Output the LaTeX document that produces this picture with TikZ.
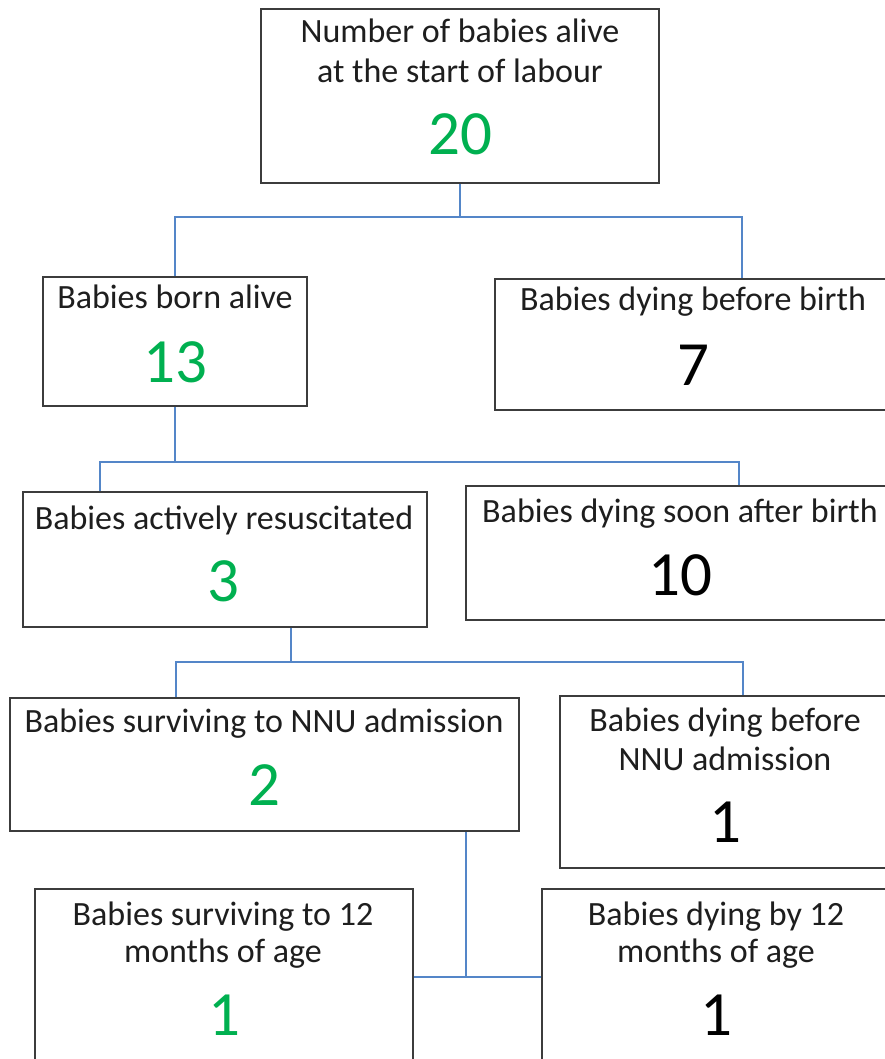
\documentclass[tikz,border=0pt]{standalone}
\usepackage{fontspec}
\setmainfont{Carlito}
\definecolor{numgreen}{RGB}{0,176,80}
\definecolor{connblue}{RGB}{84,134,200}
\definecolor{boxline}{RGB}{60,60,60}
\definecolor{txt}{RGB}{30,30,30}
\begin{document}
\begin{tikzpicture}[x=1pt,y=-1pt,
  box/.style={draw=boxline, line width=1.6pt, inner sep=0pt, fill=white},
  lbl/.style={font=\fontsize{34}{40}\selectfont, text=txt, anchor=base, inner sep=0pt},
  numg/.style={font=\fontsize{63}{70}\selectfont, text=numgreen, anchor=base, inner sep=0pt},
  numk/.style={font=\fontsize{63}{70}\selectfont, text=black, anchor=base, inner sep=0pt},
  conn/.style={draw=connblue, line width=1.5pt}]
\useasboundingbox (0,0) rectangle (885,1059);
\clip (0,0) rectangle (885,1059);
\fill[white] (0,0) rectangle (885,1059);

% boxes
\node[box, minimum width=398pt, minimum height=174pt] (b1) at (460,96) {};
\node[box, minimum width=264pt, minimum height=129pt] (b2) at (175,341.5) {};
\node[box, minimum width=396pt, minimum height=131pt] (b3) at (693,344.5) {};
\node[box, minimum width=404pt, minimum height=135pt] (b4) at (225,559.5) {};
\node[box, minimum width=428pt, minimum height=134pt] (b5) at (680,553) {};
\node[box, minimum width=509pt, minimum height=133pt] (b6) at (264.5,764.5) {};
\node[box, minimum width=330pt, minimum height=172pt] (b7) at (725,782) {};
\node[box, minimum width=378pt, minimum height=251pt] (b8) at (224,1014.5) {};
\node[box, minimum width=348pt, minimum height=251pt] (b9) at (716,1014.5) {};

% texts
\node[lbl] (t1a) at (460,43) {Number of babies alive};
\node[lbl] (t1b) at (460,83) {at the start of labour};
\node[numg] (n1) at (460,155) {20};

\node[lbl] (t2) at (175,308) {Babies born alive};
\node[numg] (n2) at (175,382) {13};

\node[lbl] (t3) at (693,310) {Babies dying before birth};
\node[numk] (n3) at (693,385) {7};

\node[lbl] (t4) at (224,529) {Babies actively resuscitated};
\node[numg] (n4) at (223,601) {3};

\node[lbl] (t5) at (680,522) {Babies dying soon after birth};
\node[numk] (n5) at (680,595) {10};

\node[lbl] (t6) at (264,732) {Babies surviving to NNU admission};
\node[numg] (n6) at (264,805) {2};

\node[lbl] (t7a) at (725,731) {Babies dying before};
\node[lbl] (t7b) at (725,770) {NNU admission};
\node[numk] (n7) at (725,842) {1};

\node[lbl] (t8a) at (223,925) {Babies surviving to 12};
\node[lbl] (t8b) at (223,962) {months of age};
\node[numg] (n8) at (224,1035) {1};

\node[lbl] (t9a) at (716,925) {Babies dying by 12};
\node[lbl] (t9b) at (716,962) {months of age};
\node[numk] (n9) at (716,1035) {1};

% connectors
\coordinate (h1l) at (176,217);
\coordinate (h1r) at (742,217);
\draw[conn] (b1.south) -- (b1.south |- h1l);
\draw[conn] (b2.north) |- (h1r) -- (h1r |- b3.north);

\coordinate (h2l) at (100,462);
\coordinate (h2r) at (739,462);
\draw[conn] (b2.south) -- (b2.south |- h2l);
\draw[conn] (h2l |- b4.north) -- (h2l) -- (h2r) -- (h2r |- b5.north);

\coordinate (h3l) at (176,662);
\coordinate (h3m) at (291,662);
\coordinate (h3r) at (743,662);
\draw[conn] (h3m |- b4.south) -- (h3m);
\draw[conn] (h3l |- b6.north) -- (h3l) -- (h3r) -- (h3r |- b7.north);

\coordinate (h4m) at (466,977);
\draw[conn] (h4m |- b6.south) -- (h4m);
\draw[conn] (b8.east |- h4m) -- (b9.west |- h4m);
\end{tikzpicture}
\end{document}
